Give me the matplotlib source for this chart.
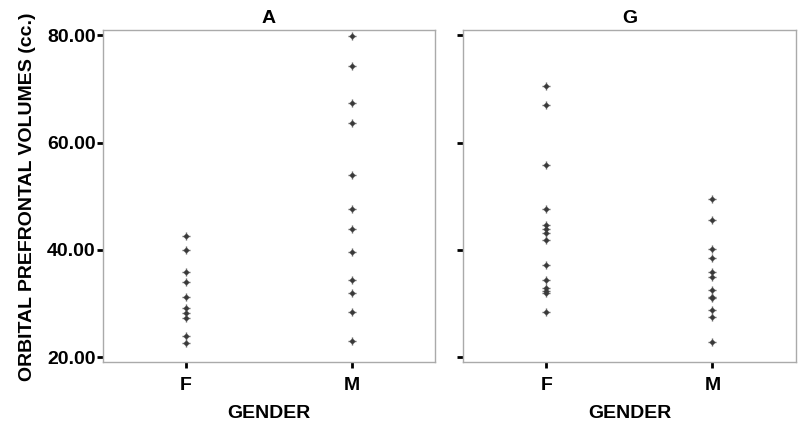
import numpy as np
import matplotlib
matplotlib.use("Agg")
import matplotlib.pyplot as plt

plt.rcParams['font.family'] = ['Liberation Sans', 'DejaVu Sans']
plt.rcParams['font.weight'] = 'bold'

# valeurs (cc.)
groupes = ["A", "G"]
genres = ["F", "M"]

a_f = [42.6, 40.0, 35.8, 34.0, 31.25, 29.1, 28.3, 27.4, 24.0, 22.6]
a_m = [79.8, 74.2, 67.4, 63.6, 54.0, 47.6, 43.9, 39.6, 34.4, 31.9, 28.5, 23.0]
g_f = [70.5, 66.9, 55.8, 47.6, 44.7, 43.9, 43.1, 41.9, 37.2, 34.4, 32.9, 32.4, 32.0, 28.5]
g_m = [49.5, 45.6, 40.2, 38.5, 35.8, 35.0, 32.5, 31.3, 31.0, 28.8, 27.5, 22.9]

donnees = {"A": [a_f, a_m], "G": [g_f, g_m]}
yticks = [20, 40, 60, 80]

fig = plt.figure(figsize=(8, 4.26), dpi=100)
ax1 = fig.add_axes([0.129, 0.1495, 0.4146, 0.7794])
ax2 = fig.add_axes([0.579, 0.1495, 0.4155, 0.7794], sharey=ax1)

for ax, g in zip([ax1, ax2], groupes):
    for i, vals in enumerate(donnees[g]):
        x = np.full(len(vals), i)
        ax.plot(x, vals, linestyle='none', marker='+', markersize=5.5,
                mew=1.0, color='#666666')
        ax.plot(x, vals, linestyle='none', marker='o', markersize=3.4,
                mew=0, color='#3a3a3a')
    ax.set_xlim(-0.5, 1.5)
    ax.set_ylim(19.07, 80.9)
    ax.set_xticks([0, 1])
    ax.set_xticklabels(genres)
    ax.set_yticks(yticks)
    ax.set_yticklabels(["%.2f" % v for v in yticks])
    for s in ax.spines.values():
        s.set_color('#aaaaaa')
        s.set_linewidth(1.0)
    ax.tick_params(axis='both', length=4.5, width=2, color='black',
                   labelsize=14, pad=1)
    ax.tick_params(axis='x', pad=6)
    ax.set_title(g, fontsize=14, fontweight='bold', pad=5)
    ax.set_xlabel("GENDER", fontsize=14, fontweight='bold', labelpad=8)

ax2.tick_params(axis='y', labelleft=False)
ax1.set_ylabel("ORBITAL PREFRONTAL VOLUMES (cc.)", fontsize=14,
               fontweight='bold', labelpad=8)

fig.savefig("out.png", dpi=100)
